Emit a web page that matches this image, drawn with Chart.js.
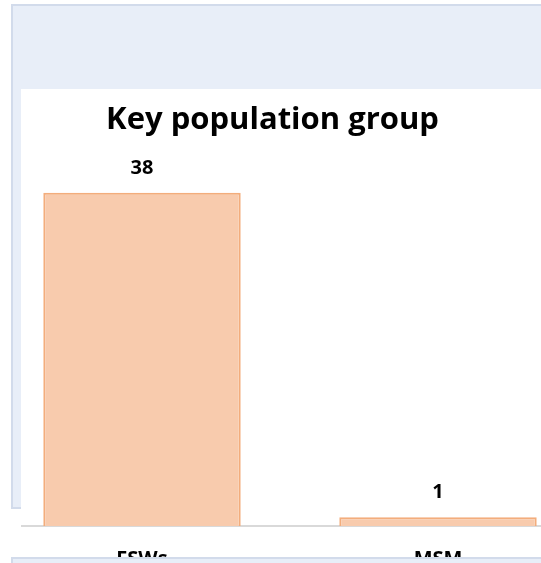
<!DOCTYPE html>
<html>
<head>
<meta charset="utf-8">
<script src="https://cdn.jsdelivr.net/npm/chart.js@4.4.1/dist/chart.umd.min.js"></script>
<style>
    html, body { margin: 0; padding: 0; width: 541px; height: 563px; overflow: hidden; background: #ffffff; }
    .panel { position: absolute; background: #e8eef8; border-top: 2px solid #d2dbeb; border-left: 2px solid #d2dbeb; box-sizing: border-box; }
    #panel-top { left: 11px; top: 4px; width: 540px; height: 505px; border-bottom: 2px solid #d2dbeb; }
    #panel-bottom { left: 11px; top: 557px; width: 540px; height: 20px; }
    #chart-box { position: absolute; left: 21px; top: 89px; width: 530px; height: 474px; overflow: hidden; background: #ffffff; }
    #chart-box canvas { position: absolute; left: -62px; top: 0; }
</style>
</head>
<body>
<div class="panel" id="panel-top"></div>
<div id="chart-box"><canvas id="kp-chart" width="627" height="503"></canvas></div>
<div class="panel" id="panel-bottom"></div>
<script>
// Chart data
const categories = ['FSWs', 'MSM'];
const counts = [38, 1];
const chartTitle = 'Key population group';

// Value labels above each bar
const barLabels = {
    id: 'barLabels',
    afterDatasetsDraw(chart) {
        const ctx = chart.ctx;
        ctx.save();
        ctx.font = 'bold 20px "Open Sans"';
        ctx.fillStyle = '#000000';
        ctx.textAlign = 'center';
        ctx.textBaseline = 'middle';
        chart.getDatasetMeta(0).data.forEach((bar, i) => {
            ctx.fillText(String(counts[i]), bar.x, bar.y - 25);
        });
        ctx.restore();
    }
};

const ctx = document.getElementById('kp-chart');

new Chart(ctx, {
    type: 'bar',
    data: {
        labels: categories,
        datasets: [{
            data: counts,
            backgroundColor: '#f8cbad',
            borderColor: '#f3ad7c',
            borderWidth: 2,
            barPercentage: 1,
            categoryPercentage: 0.667
        }]
    },
    options: {
        responsive: false,
        animation: false,
        devicePixelRatio: 1,
        layout: { padding: 0 },
        plugins: {
            legend: { display: false },
            tooltip: { enabled: false },
            title: {
                display: true,
                text: chartTitle,
                color: '#000000',
                font: { family: '"Open Sans"', size: 31, weight: 'bold' },
                padding: { top: 13, bottom: 1 }
            }
        },
        scales: {
            x: {
                grid: { display: false, drawTicks: false },
                border: { display: true, color: '#d9d9d9', width: 2 },
                ticks: {
                    color: '#000000',
                    padding: 21,
                    font: { family: '"Open Sans"', size: 20, weight: 'bold' }
                }
            },
            y: {
                min: 0,
                max: 44,
                grid: { display: false, drawTicks: false },
                border: { display: false },
                ticks: { display: false },
                afterFit(scale) { scale.width = 35; }
            }
        }
    },
    plugins: [barLabels]
});
</script>
</body>
</html>
